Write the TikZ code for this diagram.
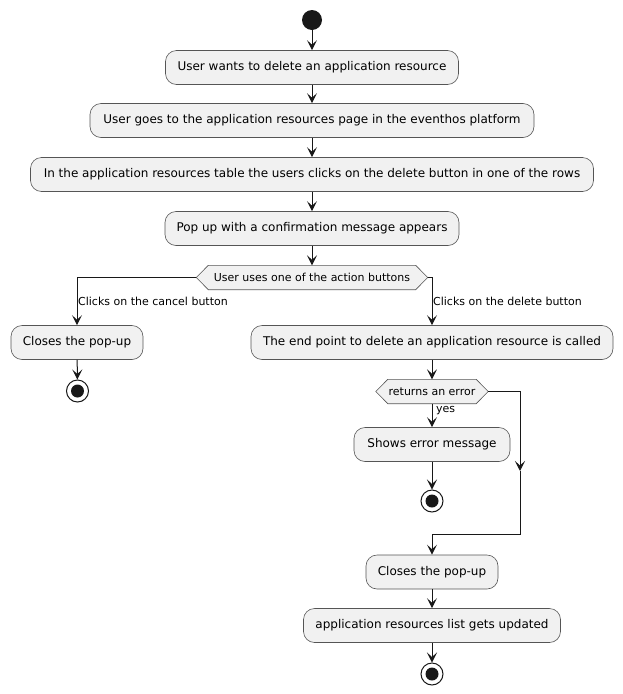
\documentclass[tikz,border=0pt]{standalone}
\usepackage{fontspec}
\setmainfont{DejaVu Sans}
\usetikzlibrary{arrows.meta,calc,backgrounds}
\definecolor{fillc}{HTML}{F1F1F1}
\definecolor{linec}{HTML}{181818}
\definecolor{bord}{HTML}{555555}
\begin{document}
\begin{tikzpicture}[x=1pt,y=-1pt,
  act/.style={draw=bord, line width=0.6pt, fill=fillc, rounded corners=11pt, minimum height=34pt, inner sep=0pt, font=\fontsize{12}{14}\selectfont, text=black},
  dtext/.style={inner sep=0pt, minimum height=24pt, font=\fontsize{11}{13}\selectfont, text=black},
  hexd/.style={draw=bord, line width=0.6pt, fill=fillc},
  flow/.style={draw=linec, line width=1pt, -{Stealth[length=10pt,width=10pt,inset=4.5pt]}},
  lbl/.style={font=\fontsize{11}{13}\selectfont, inner sep=0pt, anchor=west, text=black},
  startc/.style={circle, fill=linec, minimum size=20pt, inner sep=0pt},
  endc/.style={circle, draw=linec, line width=1pt, fill=white, minimum size=22pt, inner sep=0pt,
    path picture={\fill[linec] (path picture bounding box.center) circle (6.5pt);}}
]
\useasboundingbox (0,0) rectangle (623,694);

\node[startc] (s) at (312,20) {};
\node[act, minimum width=293pt] (b1) at (312,67.5) {User wants to delete an application resource};
\node[act, minimum width=444pt] (b2) at (312,120.5) {User goes to the application resources page in the eventhos platform};
\node[act, minimum width=563pt] (b3) at (312,174.5) {In the application resources table the users clicks on the delete button in one of the rows};
\node[act, minimum width=294pt] (b4) at (312,228.5) {Pop up with a confirmation message appears};

\node[dtext, minimum width=231pt] (d1) at (312,277.5) {User uses one of the action buttons};
\node[act, minimum width=132pt] (L) at (77,342.5) {Closes the pop-up};
\node[endc] (e1) at (77.5,391) {};
\node[act, minimum width=362pt] (R) at (432,342.5) {The end point to delete an application resource is called};
\node[dtext, minimum width=112pt] (d2) at (432,391.5) {returns an error};
\node[act, minimum width=156pt] (E) at (432,444.5) {Shows error message};
\node[endc] (e2) at (432,501) {};
\node[act, minimum width=132pt] (C) at (432,572) {Closes the pop-up};
\node[act, minimum width=257pt] (U) at (432,625.5) {application resources list gets updated};
\node[endc] (e3) at (432,674) {};

\begin{scope}[on background layer]
\foreach \d in {d1,d2}{
  \draw[hexd] ($(\d.north west)+(12,0)$) -- ($(\d.north east)+(-12,0)$) -- (\d.east)
    -- ($(\d.south east)+(-12,0)$) -- ($(\d.south west)+(12,0)$) -- (\d.west) -- cycle;
}
\end{scope}

\node[lbl] (l1) at (78,301.5) {Clicks on the cancel button};
\node[lbl] (l2) at (433,301.5) {Clicks on the delete button};
\node[lbl] (l3) at (436,410.5) {yes};

\coordinate (m) at (520,471);
\coordinate (j) at (520,534);

\draw[flow] (s) -- (b1);
\draw[flow] (b1) -- (b2);
\draw[flow] (b2) -- (b3);
\draw[flow] (b3) -- (b4);
\draw[flow] (b4) -- (d1);
\draw[flow] (d1.west) -| (L.north);
\draw[flow] (d1.east) -| (R.north);
\draw[flow] (L) -- (e1);
\draw[flow] (R) -- (d2);
\draw[flow] (d2.south) -- (E.north);
\draw[flow] (E) -- (e2);
\draw[flow] (d2.east) -| (m);
\draw[flow] (m) -- (j) -| (C.north);
\draw[flow] (C) -- (U);
\draw[flow] (U) -- (e3);
\end{tikzpicture}
\end{document}
